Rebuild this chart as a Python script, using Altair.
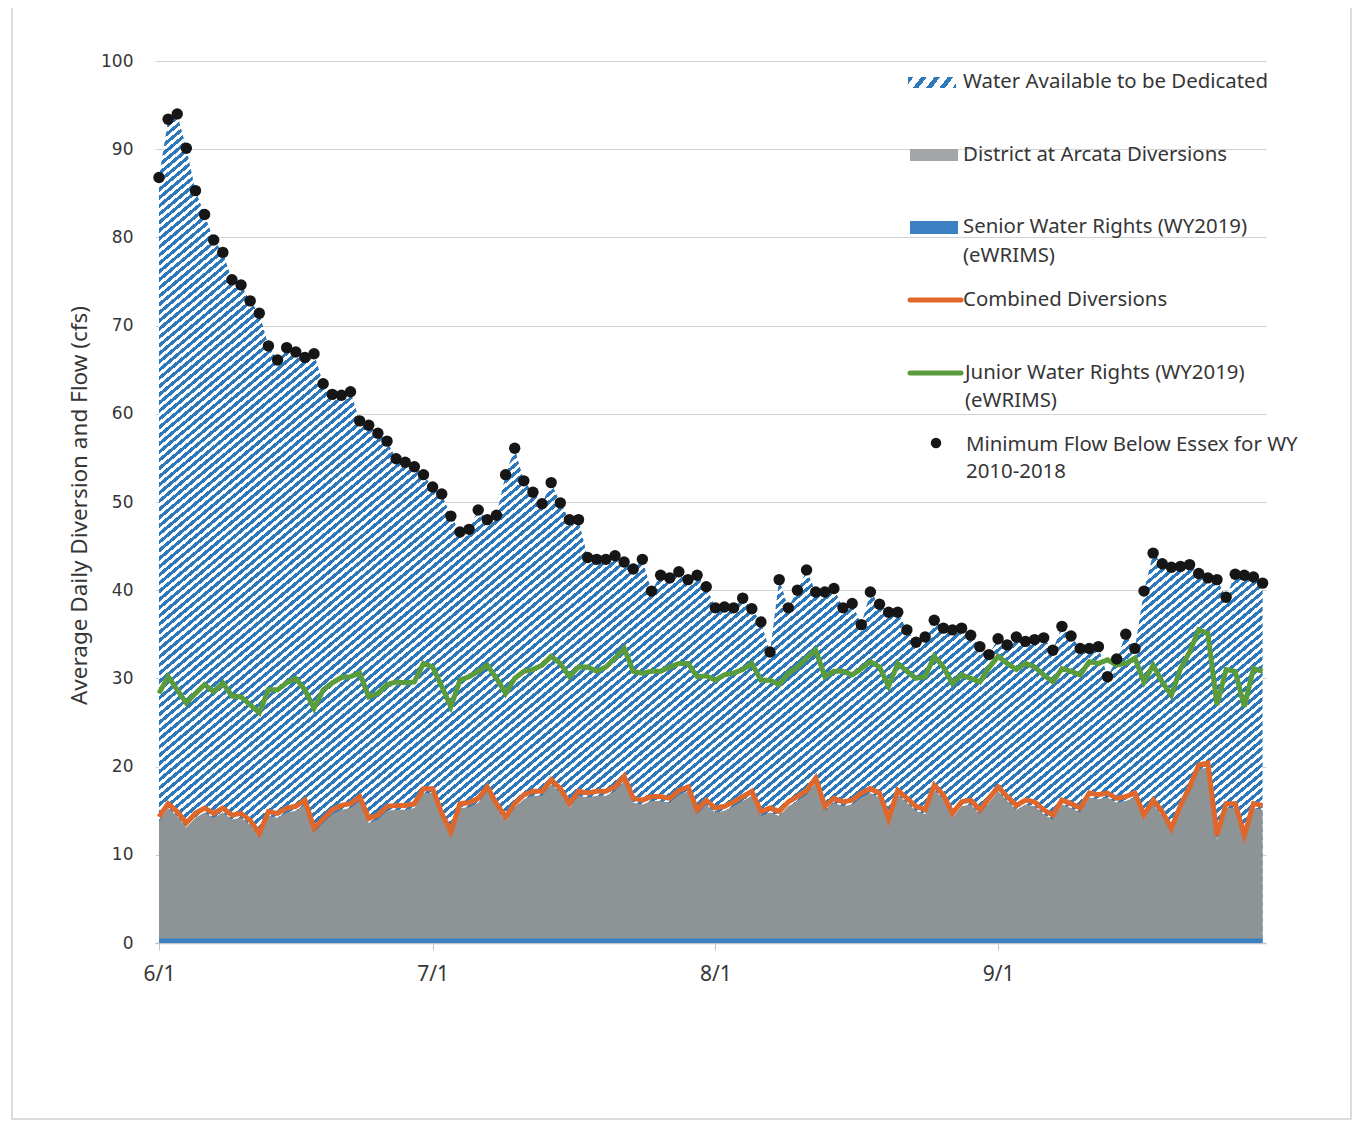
import math
import altair as alt
import pandas as pd

# ------------------------------------------------------------------ data
dates = [d.strftime("%Y-%m-%d") for d in pd.date_range("2019-06-01", "2019-09-30", freq="D")]

min_flow = [
    86.8, 93.4, 94.0, 90.1, 85.3, 82.6, 79.7, 78.3, 75.2, 74.6,
    72.8, 71.4, 67.7, 66.1, 67.5, 67.0, 66.4, 66.8, 63.4, 62.2,
    62.1, 62.5, 59.2, 58.7, 57.8, 56.9, 54.9, 54.5, 54.0, 53.1,
    51.7, 50.9, 48.4, 46.6, 46.9, 49.1, 48.0, 48.5, 53.1, 56.1,
    52.4, 51.1, 49.8, 52.2, 49.9, 48.0, 48.0, 43.7, 43.5, 43.5,
    43.9, 43.2, 42.4, 43.5, 39.9, 41.7, 41.4, 42.1, 41.2, 41.7,
    40.4, 38.0, 38.1, 38.0, 39.1, 37.9, 36.4, 33.0, 41.2, 38.0,
    40.0, 42.3, 39.8, 39.8, 40.2, 38.0, 38.5, 36.1, 39.8, 38.4,
    37.5, 37.5, 35.5, 34.1, 34.7, 36.6, 35.7, 35.5, 35.7, 34.9,
    33.6, 32.7, 34.5, 33.8, 34.7, 34.2, 34.4, 34.6, 33.2, 35.9,
    34.8, 33.4, 33.4, 33.6, 30.2, 32.2, 35.0, 33.4, 39.9, 44.2,
    43.0, 42.6, 42.7, 42.9, 41.9, 41.4, 41.2, 39.2, 41.8, 41.7,
    41.5, 40.8,
]

junior_rights = [
    28.3, 30.2, 28.7, 27.2, 28.3, 29.3, 28.5, 29.5, 28.0, 27.9,
    27.0, 26.1, 28.7, 28.7, 29.5, 30.0, 28.7, 26.6, 28.7, 29.5,
    30.1, 30.2, 30.6, 27.9, 28.3, 29.3, 29.6, 29.5, 29.6, 31.7,
    31.3, 29.1, 26.8, 29.8, 30.2, 30.8, 31.5, 30.0, 28.3, 30.0,
    30.8, 31.0, 31.5, 32.5, 31.7, 30.2, 31.3, 31.3, 30.8, 31.3,
    32.3, 33.4, 30.8, 30.6, 30.8, 30.8, 31.3, 31.7, 31.7, 30.2,
    30.3, 29.8, 30.4, 30.6, 31.0, 31.7, 29.8, 29.8, 29.3, 30.6,
    31.3, 32.3, 33.2, 30.2, 30.8, 30.8, 30.4, 31.1, 31.9, 31.3,
    29.1, 31.7, 30.8, 30.0, 30.2, 32.5, 31.3, 29.4, 30.4, 30.0,
    29.6, 31.2, 32.5, 31.7, 31.0, 31.7, 31.3, 30.4, 29.6, 31.1,
    30.8, 30.4, 31.9, 31.7, 32.1, 31.5, 31.7, 32.3, 29.6, 31.5,
    29.6, 28.1, 31.1, 33.0, 35.5, 35.1, 27.0, 31.0, 30.8, 26.8,
    31.1, 30.8,
]

combined_diversions = [
    14.3, 15.8, 14.9, 13.6, 14.7, 15.3, 14.7, 15.3, 14.5, 14.7,
    13.9, 12.4, 14.9, 14.7, 15.3, 15.5, 16.2, 13.0, 14.1, 15.1,
    15.6, 15.8, 16.6, 14.1, 14.5, 15.5, 15.6, 15.6, 15.8, 17.5,
    17.5, 14.7, 12.6, 15.8, 15.9, 16.4, 17.7, 15.8, 14.3, 15.8,
    16.8, 17.2, 17.2, 18.5, 17.5, 15.8, 17.2, 17.0, 17.2, 17.2,
    17.7, 18.9, 16.4, 16.2, 16.6, 16.6, 16.4, 17.3, 17.7, 15.1,
    16.2, 15.3, 15.5, 16.0, 16.6, 17.2, 14.9, 15.3, 14.9, 16.0,
    16.6, 17.3, 18.7, 15.5, 16.4, 16.0, 16.2, 17.0, 17.5, 17.0,
    14.1, 17.3, 16.4, 15.5, 15.1, 17.9, 16.8, 14.7, 16.0, 16.2,
    15.1, 16.4, 17.7, 16.6, 15.6, 16.2, 16.0, 15.1, 14.5, 16.2,
    15.8, 15.3, 17.0, 16.8, 17.0, 16.4, 16.6, 17.0, 14.5, 16.2,
    14.9, 13.0, 15.6, 17.7, 20.2, 20.4, 12.2, 15.8, 15.8, 12.2,
    15.8, 15.6,
]

senior_rights = [0.5] * len(dates)
district_diversions = [round(c - s, 2) for c, s in zip(combined_diversions, senior_rights)]

df = pd.DataFrame({
    "date": dates,
    "min_flow": min_flow,
    "junior": junior_rights,
    "combined": combined_diversions,
    "district": district_diversions,
    "senior": senior_rights,
})

legend_labels = [
    "Water Available to be Dedicated",
    "District at Arcata Diversions",
    "Senior Water Rights (WY2019)",
    "(eWRIMS)",
    "Combined Diversions",
    "Junior Water Rights (WY2019)",
    "(eWRIMS)",
    "Minimum Flow Below Essex for WY",
    "2010-2018",
]

# ------------------------------------------------------------------ layout / style
W, H = 1111, 882
PAD = {"left": 147, "top": 53, "right": 88, "bottom": 177}
FONT = "Noto Sans"
TXT = "#363636"
BLUE = "#2f78b9"
GREY = "#8e9496"
ORANGE = "#e0672b"
GREEN = "#5a9b3b"

span_days = 121 + 10.5 / 24 + 9 / 24
x_start = alt.DateTime(year=2019, month=5, date=31, hours=13, minutes=30, utc=True)
x_end = alt.DateTime(year=2019, month=9, date=30, hours=9, utc=True)
tick_days = [alt.DateTime(year=2019, month=m, date=1, utc=True) for m in (6, 7, 8, 9)]


def stripes(bw, bh, theta_deg, pv, frac, c1, c2):
    """diagonal stripe fill built from a linear gradient in bbox units"""
    r = math.tan(math.radians(theta_deg)) * bw / bh
    b = (r + 1) / (r * r + 1)
    a = r * b
    n = bh * (r + 1) / pv
    dt = 1.0 / n
    stops = []
    i = 0
    while i * dt < 1:
        t0 = round(i * dt, 6)
        t1 = round(min(i * dt + frac * dt, 1), 6)
        t2 = round(min((i + 1) * dt, 1), 6)
        stops += [
            {"color": c1, "offset": t0},
            {"color": c1, "offset": t1},
            {"color": c2, "offset": t1},
            {"color": c2, "offset": t2},
        ]
        i += 1
    return {"gradient": "linear", "x1": 0, "y1": 0, "x2": round(a, 5), "y2": round(b, 5), "stops": stops}


area_w = 121 * W / span_days
area_h = H * max(min_flow) / 100.0
hatch_fill = stripes(area_w, area_h, 40, 8.2, 0.52, BLUE, "#ffffff")
legend_hatch = stripes(48, 11, 52, 17, 0.42, BLUE, "#ffffff")

x_enc = alt.X(
    "date:T",
    scale=alt.Scale(type="utc", domain=[x_start, x_end]),
    axis=alt.Axis(
        values=tick_days, labelExpr="utcFormat(datum.value, '%-m/%-d')", title=None, grid=False,
        domain=True, domainColor="#c4c4c4", domainWidth=1.5, ticks=True, tickColor="#c4c4c4",
        tickSize=7, labelPadding=24, labelBaseline="middle", labelFont=FONT,
        labelFontSize=21, labelColor=TXT,
    ),
)
y_scale = alt.Scale(domain=[0, 100], nice=False)
y_axis = alt.Axis(
    values=list(range(0, 101, 10)), grid=True, gridColor="#d2d2d2", gridWidth=1,
    domain=False, ticks=False, labelPadding=22, labelFont="DejaVu Sans", labelFontSize=17,
    labelColor=TXT, title="Average Daily Diversion and Flow (cfs)", titleFont=FONT,
    titleFontSize=22.5, titleFontWeight="normal", titleColor=TXT, titleAngle=270,
    titleX=-76, titleY=444, titleAlign="center", titleBaseline="middle",
)

base = alt.Chart(df).encode(x=x_enc)

hatch = base.mark_area(color=hatch_fill, interpolate="linear").encode(
    y=alt.Y("min_flow:Q", scale=y_scale, axis=y_axis)
)
grey = base.mark_area(color=GREY).encode(y=alt.Y("district:Q"))
senior = base.mark_area(color="#3b80c2").encode(y=alt.Y("senior:Q"))
orange = base.mark_line(color=ORANGE, strokeWidth=5).encode(y="combined:Q")
green = base.mark_line(color=GREEN, strokeWidth=5).encode(y="junior:Q")
dots = base.mark_circle(size=130, color="#161616", opacity=1).encode(y="min_flow:Q")

one = pd.DataFrame({"k": [0]})

# ------------------------------------------------------------------ legend (drawn by hand)
leg_x_text = [808, 808, 808, 808, 808, 810, 810, 811, 811]
leg_y_text = [21, 94, 166, 195, 239, 312, 340, 384, 411]
legend_layers = []
for lab, lx, ly in zip(legend_labels, leg_x_text, leg_y_text):
    legend_layers.append(
        alt.Chart(one).mark_text(
            text=lab, x=lx, y=ly, align="left", baseline="middle",
            font=FONT, fontSize=20.4, color=TXT,
        )
    )

leg_hatch = alt.Chart(one).mark_rect(color=legend_hatch).encode(
    x=alt.value(753), x2=alt.value(801), y=alt.value(16), y2=alt.value(27)
)
leg_grey = alt.Chart(one).mark_rect(color="#a2a6a8").encode(
    x=alt.value(755), x2=alt.value(803), y=alt.value(88), y2=alt.value(100)
)
leg_blue = alt.Chart(one).mark_rect(color="#3b80c2").encode(
    x=alt.value(755), x2=alt.value(803), y=alt.value(160), y2=alt.value(173)
)
leg_orange = alt.Chart(one).mark_rule(color=ORANGE, strokeWidth=5, strokeCap="round").encode(
    x=alt.value(755), x2=alt.value(806), y=alt.value(239)
)
leg_green = alt.Chart(one).mark_rule(color=GREEN, strokeWidth=5, strokeCap="round").encode(
    x=alt.value(755), x2=alt.value(806), y=alt.value(312)
)
leg_dot = alt.Chart(one).mark_circle(size=110, color="#161616", opacity=1).encode(
    x=alt.value(781), y=alt.value(382)
)

frame = alt.Chart(one).mark_rect(filled=False, stroke="#cfcfcf", strokeWidth=1.5).encode(
    x=alt.value(-143), x2=alt.value(1196), y=alt.value(-57), y2=alt.value(1058)
)

chart = alt.layer(
    frame, hatch, grey, senior, orange, green, dots,
    leg_hatch, leg_grey, leg_blue, leg_orange, leg_green, leg_dot, *legend_layers,
).properties(
    width=W, height=H, padding=PAD, autosize=alt.AutoSizeParams(type="none"),
    background="white",
).configure_view(stroke=None)

chart.save("out.html", embed_options={"renderer": "svg", "actions": False})
